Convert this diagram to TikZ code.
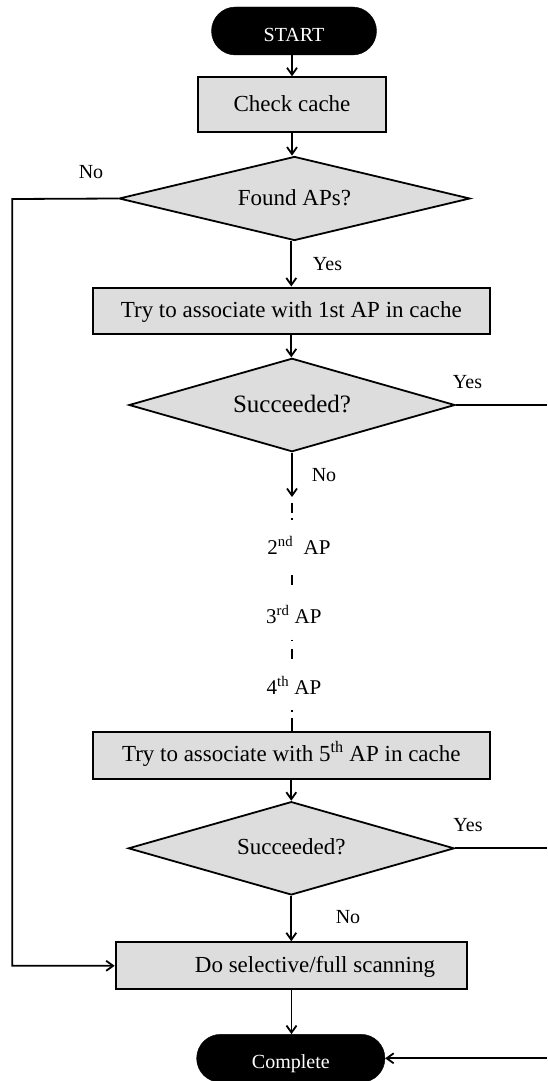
\documentclass[tikz,border=0pt]{standalone}
\usepackage{fontspec}
\setmainfont{Liberation Serif}
\usetikzlibrary{arrows.meta,shapes.geometric}
\definecolor{boxfill}{RGB}{221,221,221}

\begin{document}
\begin{tikzpicture}[x=1pt,y=-1pt,
  terminal/.style={draw=black, fill=black, text=white, rounded corners=24pt,
    minimum width=#1, minimum height=48pt, inner sep=0pt,
    font=\fontsize{20}{24}\selectfont, text height=21pt, text depth=0pt},
  process/.style={draw=black, fill=boxfill, line width=2pt, inner sep=0pt,
    font=\fontsize{23}{27}\selectfont, text height=16.5pt, text depth=3.5pt},
  decision/.style={shape=diamond, draw=black, fill=boxfill, line width=1.8pt,
    shape aspect=4, inner sep=0pt,
    font=\fontsize{23}{27}\selectfont, text height=16.5pt, text depth=3.5pt},
  aplabel/.style={inner sep=0pt, minimum height=20pt,
    font=\fontsize{21}{25}\selectfont, text height=14pt, text depth=0pt},
  lbl/.style={inner sep=0pt, anchor=base, font=\fontsize{20}{24}\selectfont},
  conn/.style={line width=1.8pt},
  arr/.style={conn, -{Straight Barb[length=7pt,width=10pt]}},
  dashline/.style={line width=2.4pt}
]
\useasboundingbox (0,0) rectangle (547,1081);

% flowchart blocks
\node[terminal=165pt] (start) at (294,31) {START};
\node[process, minimum width=188pt, minimum height=54.4pt] (check) at (292,104.5) {Check cache};
\node[decision, minimum width=351pt, minimum height=84pt] (found) at (294.5,198.5) {Found APs?};
\node[process, minimum width=397.3pt, minimum height=46pt] (try1) at (291.3,310.5) {Try to associate with 1st AP in cache};
\node[decision, minimum width=326pt, minimum height=93.4pt,
      font=\fontsize{25}{29}\selectfont, text height=18pt, text depth=4pt] (succ1) at (292,405) {Succeeded?};
\node[aplabel] (ap2) at (299,547) {2\textsuperscript{nd}\ \ AP};
\node[aplabel] (ap3) at (293.8,616.3) {3\textsuperscript{rd} AP};
\node[aplabel] (ap4) at (294,687) {4\textsuperscript{th} AP};
\node[process, minimum width=397.3pt, minimum height=47.3pt] (try5) at (291.3,755.3) {Try to associate with 5\textsuperscript{th} AP in cache};
\node[decision, minimum width=326pt, minimum height=93.3pt] (succ2) at (291.3,848.3) {Succeeded?};
\node[process, minimum width=351.6pt, minimum height=47pt] (scan) at (291.5,965.8) {\hspace*{47pt}Do selective/full scanning};
\node[terminal=188.3pt] (done) at (290.8,1058.3) {Complete};

% branch labels
\node[lbl] (noA) at (91,178) {No};
\node[lbl] (yesA) at (327.5,270) {Yes};
\node[lbl] (yesB) at (467.5,388.3) {Yes};
\node[lbl] (noB) at (324,481.7) {No};
\node[lbl] (yesC) at (468,831.7) {Yes};
\node[lbl] (noC) at (348,923.3) {No};

% helper coordinates
\coordinate (gap) at (292,497);
\coordinate (lx) at (12.3,199);
\coordinate (rx) at (547,0);

% main flow
\draw[arr] (check.north |- start.south) -- (check.north);
\draw[arr] (check.south) -- (check.south |- found.north);
\draw[arr] (found.south -| try1.north) -- (try1.north);
\draw[arr] (try1.south) -- (try1.south |- succ1.north);
\draw[arr] (succ1.south) -- (gap);

% skipped attempts (broken line)
\draw[dashline, dash pattern=on 10pt off 5pt on 1.5pt off 60pt, dash phase=70.5pt]
  (gap) -- (gap |- ap2.north);
\draw[dashline, dash pattern=on 10pt off 60pt, dash phase=52pt]
  (gap |- ap2.south) -- (gap |- ap3.north);
\draw[dashline, dash pattern=on 1.5pt off 7.5pt on 10pt off 60pt, dash phase=66pt]
  (gap |- ap3.south) -- (gap |- ap4.north);
\draw[dashline, dash pattern=on 1.5pt off 6.5pt on 40pt off 60pt, dash phase=95pt]
  (gap |- ap4.south) -- (gap |- try5.north);

\draw[arr] (try5.south) -- (try5.south |- succ2.north);
\draw[arr] (succ2.south) -- (succ2.south |- scan.north);
\draw[arr] (scan.south) -- (scan.south |- done.north);

% "No" from the cache check goes straight to scanning
\draw[arr] (found.west) -- (lx) |- (scan.west);

% "Yes" branches lead to completion
\draw[conn] (succ1.east) -- (succ1.east -| rx);
\draw[conn] (succ2.east) -- (succ2.east -| rx);
\draw[arr] (done.east -| rx) -- (done.east);
\end{tikzpicture}
\end{document}
